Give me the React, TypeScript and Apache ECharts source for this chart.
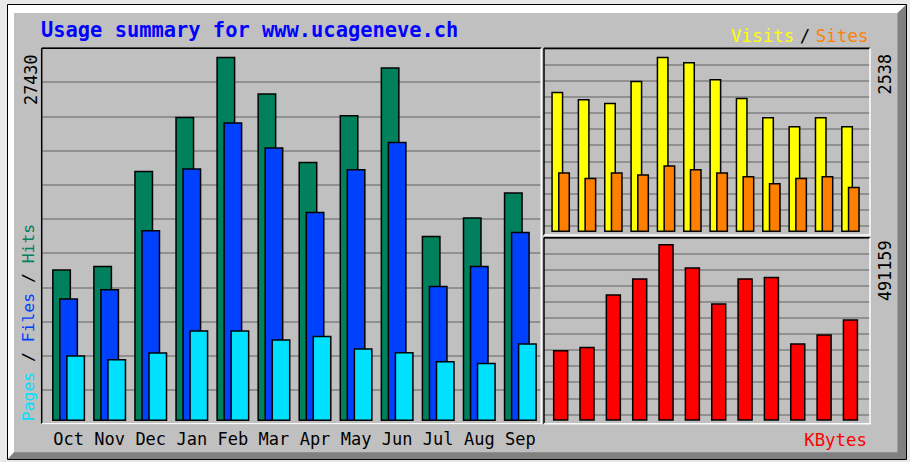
import React, { useEffect, useRef } from "react";
import * as echarts from "echarts";

// ---- data ----
const months = ["Oct", "Nov", "Dec", "Jan", "Feb", "Mar", "Apr", "May", "Jun", "Jul", "Aug", "Sep"];
const hits = [11423, 11694, 18848, 22914, 27430, 24676, 19525, 23042, 26633, 13953, 15339, 17221];
const files = [9239, 9940, 14382, 19028, 22492, 20610, 15760, 18976, 21031, 10188, 11694, 14254];
const pages = [4947, 4669, 5173, 6830, 6830, 6152, 6423, 5474, 5196, 4518, 4390, 5851];
const visits = [2031, 1926, 1872, 2191, 2538, 2461, 2215, 1944, 1665, 1535, 1665, 1535];
const sites = [864, 786, 864, 835, 966, 912, 864, 811, 709, 786, 811, 656];
const kbytes = [196518, 205690, 351340, 395815, 491159, 426390, 326325, 395815, 400262, 215141, 240157, 281852];

const maxHits = Math.max(...hits);
const maxVisits = Math.max(...visits);
const maxKBytes = Math.max(...kbytes);

// colours (webalizer defaults)
const C_HITS = "#00805c";
const C_FILES = "#0040ff";
const C_PAGES = "#00e0ff";
const C_VISITS = "#ffff00";
const C_SITES = "#ff8000";
const C_KBYTES = "#ff0000";
const MONO = "DejaVu Sans Mono";

const barBorder = { borderColor: "#000", borderWidth: 1.5 };

const lineAxis = (gridIndex: number) => ({
  type: "value",
  gridIndex,
  min: 0,
  max: 11,
  interval: 1,
  axisLine: { show: false },
  axisTick: { show: false },
  axisLabel: { show: false },
  splitLine: { show: true, lineStyle: { color: "#808080", width: 1.5 } },
});

const hiddenValueX = (gridIndex: number) => ({ type: "value", gridIndex, min: 0, max: 1, show: false });

const frame = (l: number, t: number, r: number, b: number) => [
  { type: "line", z: 100, shape: { x1: l, y1: t, x2: r, y2: t }, style: { stroke: "#000", lineWidth: 1.5 } },
  { type: "line", z: 100, shape: { x1: l, y1: t, x2: l, y2: b }, style: { stroke: "#000", lineWidth: 1.5 } },
  { type: "line", z: 100, shape: { x1: l, y1: b, x2: r + 0.75, y2: b }, style: { stroke: "#fff", lineWidth: 1.5 } },
  { type: "line", z: 100, shape: { x1: r, y1: t, x2: r, y2: b }, style: { stroke: "#fff", lineWidth: 1.5 } },
];

const vtext = (x: number, y: number, text: string, size: number) => ({
  type: "text",
  z: 100,
  x,
  y,
  rotation: Math.PI / 2,
  style: { text, fontFamily: MONO, fontSize: size, fill: "#000", align: "center", verticalAlign: "middle" },
});

const rt = (fill: string, size: number, extra: any = {}) => ({ fill, fontFamily: MONO, fontSize: size, ...extra });

const option: any = {
  animation: false,
  backgroundColor: "#e9e9e9",
  grid: [
    { left: 48.07, top: 48, width: 492.8, height: 373 }, // 0 main bars
    { left: 42, top: 48, width: 499, height: 376 }, // 1 main grid lines
    { left: 547.5, top: 48, width: 316.1, height: 184 }, // 2 visits bars
    { left: 544, top: 48.3, width: 326, height: 177.7 }, // 3 visits lines
    { left: 547.5, top: 237, width: 316.1, height: 183.7 }, // 4 kbytes bars
    { left: 544, top: 237.5, width: 326, height: 176.9 }, // 5 kbytes lines
  ],
  xAxis: [
    {
      type: "category",
      gridIndex: 0,
      data: months,
      axisLine: { show: false },
      axisTick: { show: false },
      axisLabel: { fontFamily: MONO, fontSize: 17, color: "#000", margin: 18.2, verticalAlign: "middle" },
    },
    hiddenValueX(1),
    { type: "category", gridIndex: 2, data: months, show: false },
    hiddenValueX(3),
    { type: "category", gridIndex: 4, data: months, show: false },
    hiddenValueX(5),
  ],
  yAxis: [
    { type: "value", gridIndex: 0, min: 0, max: (maxHits * 373) / 364.3, show: false },
    lineAxis(1),
    { type: "value", gridIndex: 2, min: 0, max: (maxVisits * 184) / 175.3, show: false },
    lineAxis(3),
    { type: "value", gridIndex: 4, min: 0, max: (maxKBytes * 183.7) / 176.7, show: false },
    lineAxis(5),
  ],
  series: [
    { type: "bar", name: "Hits", xAxisIndex: 0, yAxisIndex: 0, data: hits, barWidth: 19, barGap: "-63%", itemStyle: { color: C_HITS, ...barBorder } },
    { type: "bar", name: "Files", xAxisIndex: 0, yAxisIndex: 0, data: files, barWidth: 19, barGap: "-63%", itemStyle: { color: C_FILES, ...barBorder } },
    { type: "bar", name: "Pages", xAxisIndex: 0, yAxisIndex: 0, data: pages, barWidth: 19, barGap: "-63%", itemStyle: { color: C_PAGES, ...barBorder } },
    { type: "bar", name: "Visits", xAxisIndex: 2, yAxisIndex: 2, data: visits, barWidth: 12, barGap: "-44%", itemStyle: { color: C_VISITS, ...barBorder } },
    { type: "bar", name: "Sites", xAxisIndex: 2, yAxisIndex: 2, data: sites, barWidth: 12, barGap: "-44%", itemStyle: { color: C_SITES, ...barBorder } },
    { type: "bar", name: "KBytes", xAxisIndex: 4, yAxisIndex: 4, data: kbytes, barWidth: 15.5, itemStyle: { color: C_KBYTES, ...barBorder } },
  ],
  graphic: {
    elements: [
      // panel
      { type: "rect", z: -10, shape: { x: 8, y: 5, width: 898, height: 454 }, style: { fill: "#c0c0c0" } },
      {
        type: "polygon",
        z: -9,
        shape: { points: [[8, 5], [906, 5], [897.5, 13], [14, 13], [14, 452.3], [8, 459]] },
        style: { fill: "#ffffff" },
      },
      {
        type: "polygon",
        z: -9,
        shape: { points: [[906, 5], [906, 459], [8, 459], [14, 452.3], [897.5, 452.3], [897.5, 13]] },
        style: { fill: "#808080" },
      },
      { type: "rect", z: -8, shape: { x: 7.5, y: 4.5, width: 899, height: 455 }, style: { fill: "none", stroke: "#000", lineWidth: 1 } },
      // plot frames
      ...frame(41.7, 48.3, 541.3, 423.7),
      ...frame(544, 48.3, 870, 235),
      ...frame(544, 237.8, 870, 423.7),
      // title
      {
        type: "text",
        z: 100,
        x: 41,
        y: 30.3,
        style: {
          text: "Usage summary for www.ucageneve.ch",
          fontFamily: MONO,
          fontWeight: "bold",
          fontSize: 20.4,
          fill: "#0000ff",
          align: "left",
          verticalAlign: "middle",
        },
      },
      // Visits / Sites legend
      {
        type: "text",
        z: 100,
        x: 868.5,
        y: 35.5,
        style: {
          text: "{v|Visits}{s|/}{t|Sites}",
          align: "right",
          verticalAlign: "middle",
          fontFamily: MONO,
          fontSize: 17.5,
          rich: {
            v: rt(C_VISITS, 17.5),
            s: rt("#000", 17.5, { padding: [0, 5.5] }),
            t: rt(C_SITES, 17.5),
          },
        },
      },
      // KBytes legend
      {
        type: "text",
        z: 100,
        x: 867,
        y: 440,
        style: { text: "KBytes", fontFamily: MONO, fontSize: 17.4, fill: C_KBYTES, align: "right", verticalAlign: "middle" },
      },
      // vertical legend Pages / Files / Hits
      {
        type: "text",
        z: 100,
        x: 28.5,
        y: 322.5,
        rotation: Math.PI / 2,
        style: {
          text: "{p|Pages}{s| / }{f|Files}{s| / }{h|Hits}",
          align: "center",
          verticalAlign: "middle",
          fontFamily: MONO,
          fontSize: 16.4,
          rich: {
            p: rt(C_PAGES, 16.4),
            s: rt("#000", 16.4),
            f: rt(C_FILES, 16.4),
            h: rt(C_HITS, 16.4),
          },
        },
      },
      // max value labels
      vtext(30.5, 79.7, String(maxHits), 16.8),
      vtext(885, 74.2, String(maxVisits), 16.8),
      vtext(885, 270.8, String(maxKBytes), 16.8),
    ],
  },
};

export default function App() {
  const ref = useRef<HTMLDivElement>(null);
  useEffect(() => {
    document.body.style.margin = "0";
    const chart = echarts.init(ref.current as HTMLDivElement, null, { renderer: "svg" });
    chart.setOption(option);
    return () => chart.dispose();
  }, []);
  return <div ref={ref} style={{ width: 910, height: 462 }} />;
}
